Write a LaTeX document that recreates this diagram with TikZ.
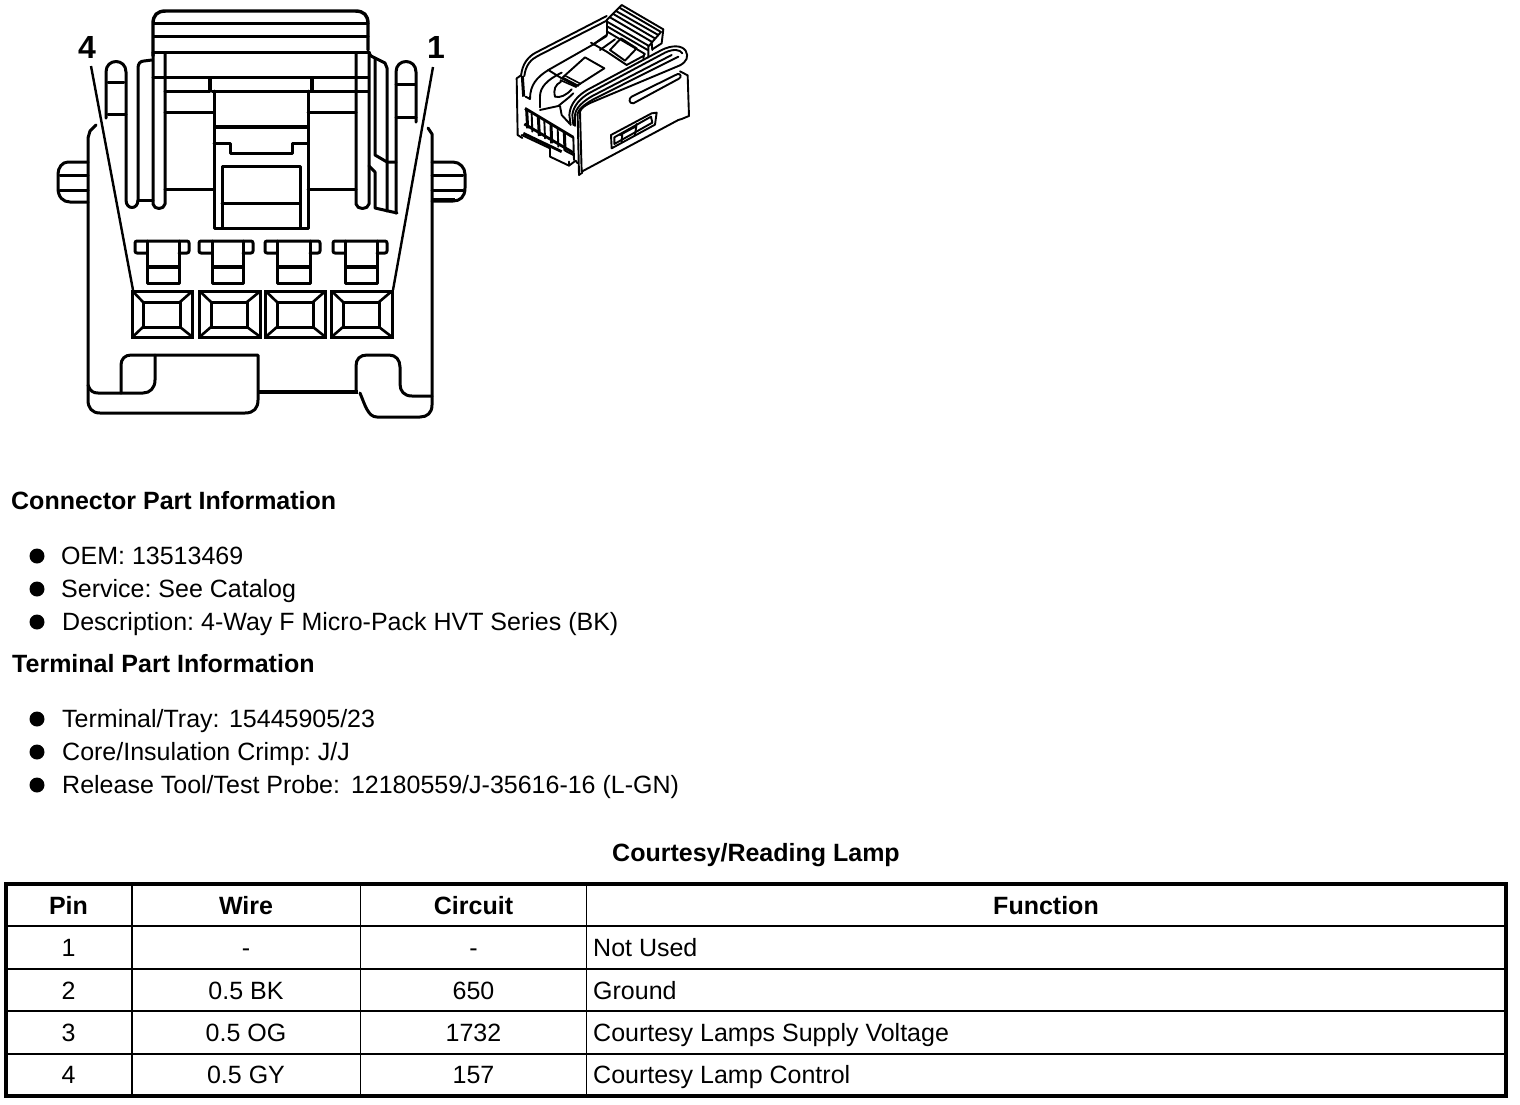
\documentclass[tikz,border=0pt]{standalone}
\usepackage{fontspec}
\setmainfont{Liberation Sans}
\frenchspacing
\tikzset{
  px/.style={x=1pt,y=-1pt},
  ln/.style={line width=3pt,line cap=round,line join=round},
  thn/.style={line width=1.9pt,line cap=round,line join=round},
  txt/.style={inner sep=0pt,anchor=base west,font=\fontsize{25}{30}\selectfont\frenchspacing},
  ctxt/.style={inner sep=0pt,anchor=base,font=\fontsize{25}{30}\selectfont\frenchspacing},
  btxt/.style={inner sep=0pt,anchor=base west,font=\fontsize{25}{30}\selectfont\bfseries\frenchspacing},
  bctxt/.style={inner sep=0pt,anchor=base,font=\fontsize{25}{30}\selectfont\bfseries\frenchspacing},
  pinlab/.style={inner sep=0pt,anchor=base,font=\fontsize{32}{34}\selectfont\bfseries},
  bul/.style={circle,fill=black,inner sep=0pt,minimum size=15pt},
}
\newcommand{\Tcap}[4]{% bar left, bar right, stem left, stem right
  \draw[ln,rounded corners=2pt] (#3,253) -- (#1,253) -- (#1,241) -- (#2,241) -- (#2,253) -- (#4,253);
  \draw[ln] (#3,241) -- (#3,283) -- (#4,283) -- (#4,241);
  \draw[line width=4pt] (#3,267) -- (#4,267);
}
\newcommand{\Tblock}[4]{% outer left, outer right, inner left, inner right
  \draw[line width=3pt] (#1,291) rectangle (#2,337);
  \draw[line width=3pt] (#3,302) rectangle (#4,327);
  \draw[line width=2.6pt] (#1,291) -- (#3,302) (#2,291) -- (#4,302) (#1,337) -- (#3,327) (#2,337) -- (#4,327);
}
\begin{document}
\begin{tikzpicture}[px]
\useasboundingbox (0,0) rectangle (1520,1104);
% ---- top cap
\draw[ln,line width=3.4pt] (153,56) -- (153,24) .. controls (153,15) and (157,11) .. (166,11) -- (355,11) .. controls (364,11) and (368,15) .. (368,24) -- (368,50);
\draw[ln] (154,23) -- (368,23) (154,36) -- (368,36) (153,52) -- (369,52);
\draw[ln] (153,77) -- (368,77) (165,91) -- (210,91) (212,91) -- (368,91);
\draw[line width=3.6pt] (210,77) -- (210,91) (312,77) -- (312,91);
\draw[ln] (165,53) -- (165,204) .. controls (164,210) and (154,210) .. (153,204) -- (153,52);
\draw[ln] (356,53) -- (356,204) .. controls (357,210) and (368,210) .. (369,204) -- (369,52);
\draw[ln] (165,112) -- (214,112) (308,112) -- (356,112);
\draw[ln] (165,189) -- (214,189) (308,189) -- (356,189);
\draw[ln] (214,91) -- (214,228) -- (308,228) -- (308,91);
\draw[line width=3.6pt] (214,127) -- (308,127);
\draw[ln] (214,143) -- (230,143) -- (230,153) -- (292,153) -- (292,143) -- (308,143);
\draw[ln] (222,228) -- (222,166) -- (300,166) -- (300,228);
\draw[ln] (222,203) -- (300,203);
% ---- left latch
\draw[ln] (152,60) -- (144,61) .. controls (140,61) and (138,64) .. (138,68) -- (138,200) .. controls (138,210) and (126,210) .. (126,200) -- (126,72) .. controls (126,58) and (106,58) .. (106,72) -- (106,118);
\draw[ln] (138,200) -- (153,200);
\draw[ln] (108,82) -- (124,82) (108,114) -- (126,114);
% ---- right latch
\draw[ln] (369,52) .. controls (370,56) and (372,57) .. (375,58) -- (385,63) -- (387,68) -- (387,211);
\draw[ln] (375,58) -- (375,155) -- (387,162) -- (396,162);
\draw[ln] (369,166) -- (375,172) -- (375,208) -- (397,213);
\draw[ln] (396,213) -- (396,72) .. controls (396,58) and (416,58) .. (416,72) -- (416,122);
\draw[ln] (396,84) -- (415,84) (396,117) -- (416,117);
% ---- housing
\draw[ln] (96,125) -- (90,131) -- (88,138) -- (88,400) .. controls (88,408) and (92,413) .. (100,413) -- (245,413) .. controls (254,413) and (258,408) .. (258,400) -- (258,355) -- (131,355) .. controls (125,355) and (121,359) .. (121,365) -- (121,393);
\draw[ln] (88,385) .. controls (90,391) and (93,393) .. (98,393) -- (143,393) .. controls (150,393) and (155,388) .. (155,380) -- (155,355);
\draw[ln] (428,128) -- (432,134) -- (432,405) .. controls (432,413) and (427,417) .. (420,417) -- (377,417) .. controls (368,417) and (365,405) .. (360,393);
\draw[line width=3.8pt] (258,392) -- (358,392);
\draw[ln] (356,392) -- (356,366) .. controls (356,359) and (360,355) .. (367,355) -- (389,355) .. controls (396,355) and (400,360) .. (400,367) -- (400,384) .. controls (400,391) and (404,396) .. (412,396) -- (432,396);
% lugs
\draw[ln] (88,162) -- (68,162) .. controls (62,162) and (58,168) .. (58,174) -- (58,188) .. controls (58,197) and (63,202) .. (70,202) -- (88,202);
\draw[ln] (60,175) -- (88,175) (60,190) -- (88,190);
\draw[ln] (432,162) -- (453,162) .. controls (460,162) and (465,168) .. (465,174) -- (465,188) .. controls (465,197) and (460,201) .. (453,201) -- (432,201);
\draw[ln] (432,175) -- (463,175) (432,190) -- (463,190);
\draw[line width=3.8pt] (432,200) -- (455,200);
% ---- terminals
\Tcap{135}{189}{147}{179}
\Tcap{199}{253}{212}{243}
\Tcap{265}{320}{277}{310}
\Tcap{333}{387}{345}{377}
\Tblock{132.5}{192.5}{143}{180}
\Tblock{199.5}{260.5}{211}{247}
\Tblock{265.5}{325.5}{277}{313}
\Tblock{331.5}{392}{343}{379}
% ---- pin labels and leaders
\node[pinlab] (p4) at (87,58) {4};
\node[pinlab] (p1) at (436,58) {1};
\coordinate (p4a) at (91,66);
\coordinate (p4b) at (133,290);
\coordinate (p1a) at (433,67);
\coordinate (p1b) at (393,290);
\draw[line width=2.4pt] (p4a) -- (p4b);
\draw[line width=2.4pt] (p1a) -- (p1b);
% ---- 3D view
\begin{scope}[shift={(505pt,0pt)},x=0.3333pt,y=-0.3333pt]
% outer left arcs
\draw[thn] (48,228) .. controls (52,190) and (70,170) .. (92,158) -- (305,48);
\draw[thn] (58,228) .. controls (62,195) and (78,178) .. (98,168) -- (305,62);
\draw[line width=3pt] (52,228) -- (56,290);
\draw[thn] (35,235) -- (48,226) (35,235) -- (38,405) -- (52,414);
\draw[thn] (62,290) -- (75,297);
\draw[thn] (75,297) .. controls (75,255) and (95,232) .. (130,210) -- (262,135) -- (305,108);
\draw[thn] (105,322) -- (105,290) .. controls (105,262) and (125,240) .. (170,218);
\draw[thn] (130,210) -- (170,235);
\draw[thn] (170,235) -- (240,172) -- (298,205) -- (215,258) -- (170,235);
\draw[line width=1.6pt] (165,240) -- (215,262) (172,232) -- (222,258) (178,226) -- (228,252);
\draw[thn] (150,290) .. controls (145,268) and (150,255) .. (168,245);
\draw[thn] (150,290) .. controls (165,295) and (185,285) .. (200,268);
\draw[thn] (105,330) -- (160,318) .. controls (175,305) and (190,295) .. (205,280);
\draw[thn] (165,318) -- (170,345) -- (195,372);
% top middle
\draw[thn] (258,128) -- (305,155) -- (365,195) -- (415,168);
\draw[thn] (262,135) -- (305,105) (285,150) -- (330,118);
\draw[thn] (315,150) -- (348,115) -- (395,145) -- (360,182) -- cycle;
\draw[thn] (305,105) -- (305,62);
% ribs
\draw[thn] (305,60) -- (350,15) -- (475,88) -- (470,130) -- (442,148);
\draw[thn] (345,24) -- (468,96) -- (440,128);
\draw[thn] (335,34) -- (458,104);
\draw[thn] (325,42) -- (448,114);
\draw[thn] (315,52) -- (440,125);
\draw[thn] (308,66) -- (432,138) -- (440,128);
\draw[thn] (308,80) -- (428,150);
\draw[thn] (305,94) -- (420,162);
\draw[thn] (440,128) -- (442,150) (430,138) -- (430,172) (418,162) -- (415,175);
% right plate arcs
\draw[thn] (197,375) -- (193,345) .. controls (195,310) and (220,285) .. (250,268) -- (470,150) .. controls (500,135) and (530,135) .. (542,152) .. controls (552,170) and (545,185) .. (525,196);
\draw[thn] (205,375) -- (202,345) .. controls (205,318) and (225,295) .. (255,278) -- (480,158) .. controls (505,146) and (525,148) .. (532,160);
\draw[thn] (210,378) -- (210,345) .. controls (212,325) and (232,305) .. (262,288) -- (500,165);
\draw[thn] (217,345) .. controls (218,330) and (235,315) .. (265,298) -- (520,170);
\draw[thn] (225,335) .. controls (228,325) and (240,315) .. (265,305) -- (525,196);
% face
\draw[thn] (225,335) -- (230,515) -- (520,360) -- (530,357) -- (552,348);
\draw[thn] (218,345) -- (222,525) -- (232,518);
\draw[thn] (525,214) -- (548,226) -- (552,348);
\draw[thn] (380,290) -- (518,222) .. controls (528,220) and (530,232) .. (522,236) -- (385,310) .. controls (372,312) and (370,295) .. (380,290);
\draw[thn] (318,405) -- (440,340) -- (455,338) -- (450,374) -- (320,445) -- cycle;
\draw[thn] (328,412) -- (438,350) -- (442,368) -- (328,432) -- cycle;
\draw[thn] (352,400) -- (350,425) (395,372) -- (390,405) (345,405) -- (395,378);
% front
\draw[line width=2.8pt] (60,325) -- (205,412);
\draw[line width=2.8pt] (58,372) -- (205,458);
\draw[line width=2.8pt] (55,400) -- (170,455);
\draw[line width=3pt] (65,330) -- (68,385) (100,350) -- (103,408) (138,372) -- (140,430) (178,395) -- (180,452);
\draw[thn] (80,342) -- (82,395) (118,362) -- (120,415) (158,385) -- (160,440) (205,412) -- (207,480);
\draw[thn] (50,405) -- (135,445) -- (135,470) -- (192,497) -- (212,482) -- (218,490);
\draw[thn] (192,485) -- (192,497) (180,452) -- (205,465);
\end{scope}
% ---- text
\node[btxt] (h1) at (11,509) {Connector Part Information};
\node[bul] (b1) at (37,556) {};
\node[bul] (b2) at (37,589) {};
\node[bul] (b3) at (37,622) {};
\node[txt] (t1) at (61,564) {OEM: 13513469};
\node[txt] (t2) at (61,597) {Service: See Catalog};
\node[txt] (t3) at (62,630) {Description: 4-Way F Micro-Pack HVT Series (BK)};
\node[btxt] (h2) at (12,672) {Terminal Part Information};
\node[bul] (b4) at (37,719) {};
\node[bul] (b5) at (37,752) {};
\node[bul] (b6) at (37,785) {};
\node[txt] (t4) at (62,727) {Terminal/Tray:\kern2.5pt{} 15445905/23};
\node[txt] (t5) at (62,760) {Core/Insulation Crimp: J/J};
\node[txt] (t6) at (62,793) {Release Tool/Test Probe:\kern4pt{} 12180559/J-35616-16 (L-GN)};
\node[bctxt] (title) at (756,861.5) {Courtesy/Reading Lamp};
% ---- table
\draw[line width=4pt] (6,884) rectangle (1506,1096);
\draw[line width=2.8pt] (6,926) -- (1506,926);
\draw[line width=2pt] (6,968.7) -- (1506,968.7) (6,1011) -- (1506,1011) (6,1053.7) -- (1506,1053.7);
\draw[line width=2pt] (131.5,884) -- (131.5,1096);
\draw[line width=1.1pt] (360.5,884) -- (360.5,1096) (586.5,884) -- (586.5,1096);
\node[bctxt] (c1) at (68.5,914.5) {Pin};
\node[bctxt] (c2) at (246,914.5) {Wire};
\node[bctxt] (c3) at (473.5,914.5) {Circuit};
\node[bctxt] (c4) at (1046,914.5) {Function};
\node[ctxt] (r1a) at (68.5,956.5) {1};
\node[ctxt] (r1b) at (246,956.5) {-};
\node[ctxt] (r1c) at (473.5,956.5) {-};
\node[txt] (r1d) at (593,956.5) {Not Used};
\node[ctxt] (r2a) at (68.5,999) {2};
\node[ctxt] (r2b) at (246,999) {0.5 BK};
\node[ctxt] (r2c) at (473.5,999) {650};
\node[txt] (r2d) at (593,999) {Ground};
\node[ctxt] (r3a) at (68.5,1041.5) {3};
\node[ctxt] (r3b) at (246,1041.5) {0.5 OG};
\node[ctxt] (r3c) at (473.5,1041.5) {1732};
\node[txt] (r3d) at (593,1041.5) {Courtesy Lamps Supply Voltage};
\node[ctxt] (r4a) at (68.5,1083.5) {4};
\node[ctxt] (r4b) at (246,1083.5) {0.5 GY};
\node[ctxt] (r4c) at (473.5,1083.5) {157};
\node[txt] (r4d) at (593,1083.5) {Courtesy Lamp Control};
\end{tikzpicture}
\end{document}
